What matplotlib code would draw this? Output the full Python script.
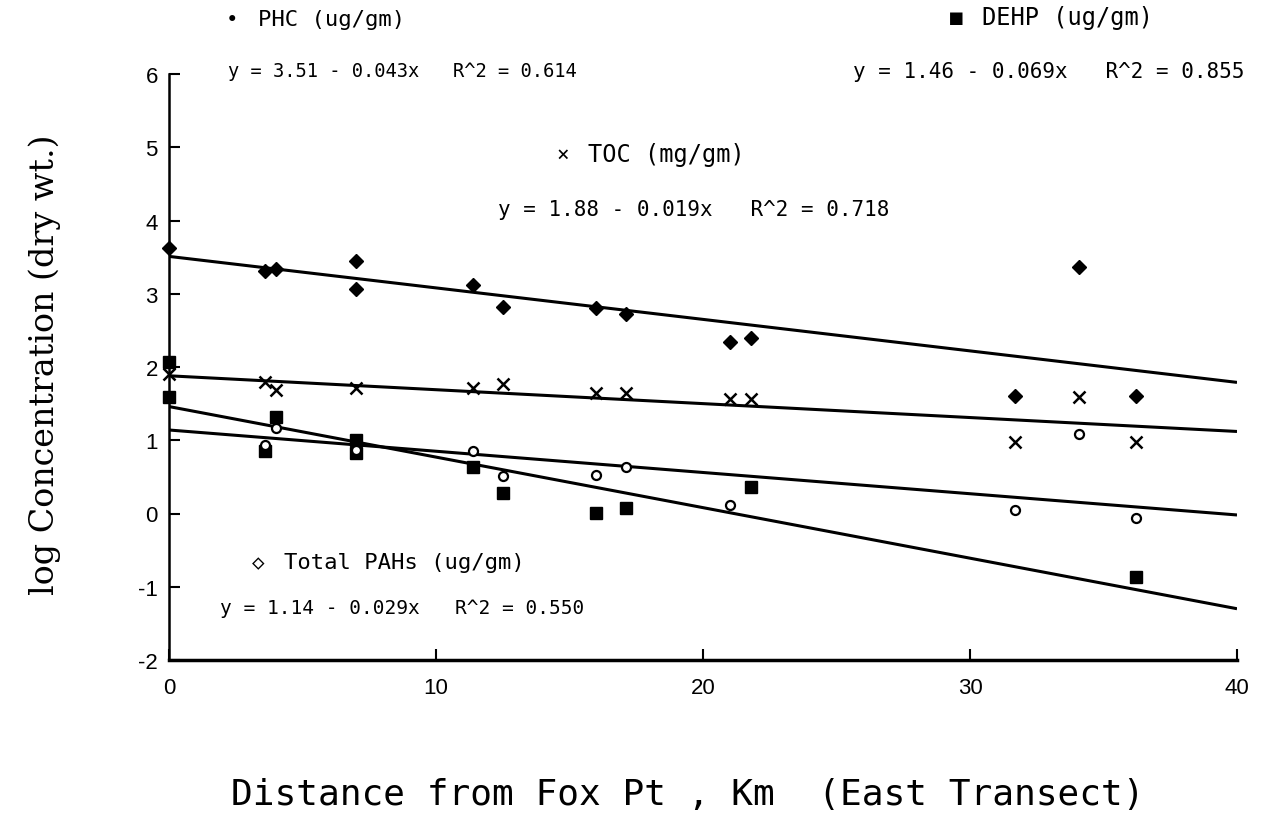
import numpy as np
import matplotlib
matplotlib.use("Agg")
import matplotlib.pyplot as plt

plt.rcParams['axes.unicode_minus'] = False

# distance from Fox Pt (km) and log concentration
phc_km = [0, 3.6, 4.0, 7.0, 7.0, 11.4, 12.5, 16.0, 17.1, 21.0, 21.8, 31.7, 34.1, 36.2]
phc_log = [3.62, 3.31, 3.34, 3.45, 3.07, 3.12, 2.82, 2.81, 2.73, 2.34, 2.40, 1.61, 3.36, 1.60]

toc_km = [0, 3.6, 4.0, 7.0, 11.4, 12.5, 16.0, 17.1, 21.0, 21.8, 31.7, 34.1, 36.2]
toc_log = [1.90, 1.80, 1.68, 1.72, 1.71, 1.77, 1.65, 1.65, 1.56, 1.56, 0.98, 1.59, 0.98]

dehp_km = [0, 0, 3.6, 4.0, 7.0, 7.0, 11.4, 12.5, 16.0, 17.1, 21.8, 36.2]
dehp_log = [2.07, 1.59, 0.86, 1.32, 1.00, 0.82, 0.64, 0.28, 0.01, 0.08, 0.36, -0.87]

pah_km = [3.6, 4.0, 7.0, 11.4, 12.5, 16.0, 17.1, 21.0, 31.7, 34.1, 36.2]
pah_log = [0.93, 1.17, 0.87, 0.86, 0.51, 0.52, 0.63, 0.12, 0.05, 1.09, -0.06]

# regression results printed on the chart
fit_names = ["PHC (ug/gm)", "DEHP (ug/gm)", "TOC (mg/gm)", "Total PAHs (ug/gm)"]
fit_icpt = [3.51, 1.46, 1.88, 1.14]
fit_slope = [-0.043, -0.069, -0.019, -0.029]
fit_r2 = [0.614, 0.855, 0.718, 0.550]

xticks = [0, 10, 20, 30, 40]
yticks = [-2, -1, 0, 1, 2, 3, 4, 5, 6]

W, H = 1278, 828
fig = plt.figure(figsize=(W / 100, H / 100), dpi=100)
ax = fig.add_axes([169 / W, 1 - 661 / H, (1237 - 169) / W, (661 - 75) / H])

xx = np.array([0, 40])
for b, m in zip(fit_icpt, fit_slope):
    ax.plot(xx, b + m * xx, color='black', lw=2.2, solid_capstyle='butt')

ax.plot(phc_km, phc_log, linestyle='none', marker='D', ms=7, color='black', clip_on=False)
ax.plot(toc_km, toc_log, linestyle='none', marker='x', ms=9, mew=1.8, color='black', clip_on=False)
ax.plot(dehp_km, dehp_log, linestyle='none', marker='s', ms=9, color='black', clip_on=False)
ax.plot(pah_km, pah_log, linestyle='none', marker='o', ms=6.5, mew=1.6, mfc='white',
        mec='black', clip_on=False)

ax.set_xlim(0, 40)
ax.set_ylim(-2, 6)
ax.set_xticks(xticks)
ax.set_yticks(yticks)
for s in ['top', 'right']:
    ax.spines[s].set_visible(False)
ax.spines['left'].set_linewidth(1.8)
ax.spines['bottom'].set_linewidth(2.5)
ax.tick_params(direction='in', length=8, width=1.5, labelsize=16)
ax.tick_params(axis='x', pad=12)
ax.tick_params(axis='y', pad=8)
for lab in ax.get_xticklabels() + ax.get_yticklabels():
    lab.set_fontname('Liberation Sans')

mono = ['DejaVu Sans Mono', 'Liberation Mono']
glyphs = ['\u2022', '\u25a0', '\u00d7', '\u25c7']
# legend/equation blocks: glyph x, name y, eq x, eq y (pixels), name size, eq size
spots = [(226, 20, 228, 72, 16, 13.5),
         (950, 18, 853, 72, 17, 15),
         (556, 155, 498, 210, 17, 15),
         (252, 563, 220, 608, 16, 14)]
for i in range(4):
    gx, gy, ex, ey, fn, fe = spots[i]
    fig.text(gx / W, 1 - gy / H, glyphs[i], family=mono, fontsize=15, va='center', ha='left')
    fig.text((gx + 32) / W, 1 - gy / H, fit_names[i], family=mono,
             fontsize=fn, va='center', ha='left')
    eq = "y = %.2f - %.3fx   R^2 = %.3f" % (fit_icpt[i], -fit_slope[i], fit_r2[i])
    fig.text(ex / W, 1 - ey / H, eq, family=mono, fontsize=fe, va='center', ha='left')

fig.text(45 / W, 1 - 365 / H, 'log Concentration (dry wt.)', family='DejaVu Serif',
         fontsize=24, rotation=90, va='center', ha='center')
fig.text(688 / W, 1 - 795 / H, 'Distance from Fox Pt , Km  (East Transect)',
         family='DejaVu Sans Mono', fontsize=26, va='center', ha='center')

fig.savefig('out.png', dpi=100)
